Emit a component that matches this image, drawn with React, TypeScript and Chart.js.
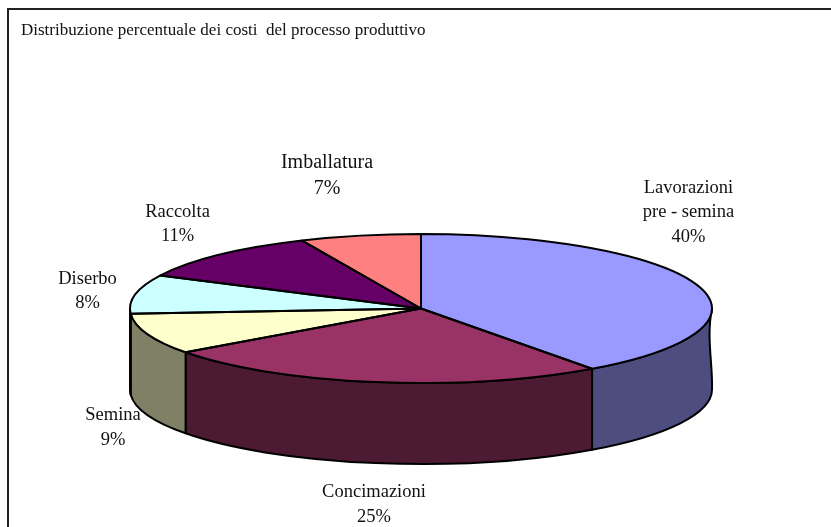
import React, { useEffect, useRef } from "react";
import { Chart, registerables } from "chart.js";

Chart.register(...registerables);

const titleText = "Distribuzione percentuale dei costi  del processo produttivo";
const categories = ["Lavorazioni\npre - semina", "Concimazioni", "Semina", "Diserbo", "Raccolta", "Imballatura"];
const shares = [40, 25, 8.9, 8.4, 11, 6.7];
const topColours = ["#9999FF", "#993366", "#FFFFCC", "#CCFFFF", "#660066", "#FF8080"];
const wallColours = ["#4D4D80", "#4D1A33", "#808066", "#808066", "#330033", "#804040"];
const labelCentres = [[688.5, 212.5], [374, 504.5], [113, 427.5], [87.5, 291], [177.5, 224], [327, 175.7]];
const labelFontSizes = [18.5, 18.5, 18.5, 18.5, 18.5, 20];
const labelLineHeights = [24.5, 24.5, 24.5, 24.5, 24.5, 26];

const TILT = 0.256;
const DEPTH = 81;
const RADIUS = 291;

const pie3d = {
  id: "pie3d",
  beforeDatasetsDraw(chart: any) {
    const ctx = chart.ctx;
    const arcs = chart.getDatasetMeta(0).data;
    const { x: cx, y: cy } = arcs[0];
    ctx.save();
    ctx.strokeStyle = "#000";
    ctx.lineWidth = 2;
    ctx.lineJoin = "round";
    arcs.forEach((arc: any, i: number) => {
      const a1 = Math.max(arc.startAngle, 0);
      const a2 = Math.min(arc.endAngle, Math.PI);
      if (a2 <= a1) return;
      const r = arc.outerRadius;
      ctx.beginPath();
      ctx.ellipse(cx, cy, r, r * TILT, 0, a1, a2);
      ctx.ellipse(cx, cy + DEPTH, r, r * TILT, 0, a2, a1, true);
      if (a1 === 0) {
        ctx.bezierCurveTo(cx + r + 1, cy + DEPTH * 0.7, cx + r - 6, cy + DEPTH * 0.35, cx + r, cy);
      }
      ctx.closePath();
      ctx.fillStyle = wallColours[i];
      ctx.fill();
      ctx.stroke();
    });
    ctx.restore();
    ctx.save();
    ctx.translate(cx, cy);
    ctx.scale(1, TILT);
    ctx.translate(-cx, -cy);
  },
  afterDatasetsDraw(chart: any) {
    const ctx = chart.ctx;
    ctx.restore();
    const arcs = chart.getDatasetMeta(0).data;
    ctx.save();
    ctx.strokeStyle = "#000";
    ctx.lineWidth = 2;
    ctx.lineJoin = "round";
    arcs.forEach((arc: any) => {
      ctx.beginPath();
      ctx.moveTo(arc.x, arc.y);
      ctx.ellipse(arc.x, arc.y, arc.outerRadius, arc.outerRadius * TILT, 0, arc.startAngle, arc.endAngle);
      ctx.closePath();
      ctx.stroke();
    });
    ctx.restore();

    ctx.save();
    ctx.fillStyle = "#111";
    ctx.textBaseline = "middle";
    ctx.textAlign = "left";
    ctx.font = "17px 'Liberation Serif'";
    ctx.fillText(titleText, 21, 31);
    ctx.textAlign = "center";
    categories.forEach((name, i) => {
      ctx.font = `${labelFontSizes[i]}px 'Liberation Serif'`;
      const lines = [...name.split("\n"), `${Math.round(shares[i])}%`];
      const [x, y] = labelCentres[i];
      lines.forEach((line, j) => {
        ctx.fillText(line, x, y + (j - (lines.length - 1) / 2) * labelLineHeights[i]);
      });
    });
    ctx.restore();
  },
};

const frame = {
  id: "frame",
  beforeDraw(chart: any) {
    const ctx = chart.ctx;
    ctx.save();
    ctx.fillStyle = "#fff";
    ctx.fillRect(0, 0, chart.width, chart.height);
    ctx.strokeStyle = "#222";
    ctx.lineWidth = 2;
    ctx.strokeRect(8, 9, chart.width + 20, chart.height + 20);
    ctx.restore();
  },
};

export default function App() {
  const ref = useRef<HTMLCanvasElement>(null);
  useEffect(() => {
    document.body.style.margin = "0";
    const chart = new Chart(ref.current!, {
      type: "pie",
      data: {
        labels: categories,
        datasets: [{ data: shares, backgroundColor: topColours, borderWidth: 0, radius: RADIUS } as any],
      },
      options: {
        responsive: false,
        animation: false,
        layout: { padding: { left: 11, right: 0, top: 90, bottom: 0 } },
        plugins: { legend: { display: false }, tooltip: { enabled: false }, title: { display: false } },
      },
      plugins: [frame, pie3d],
    });
    return () => chart.destroy();
  }, []);
  return <canvas ref={ref} width={831} height={527} style={{ display: "block" }} />;
}
